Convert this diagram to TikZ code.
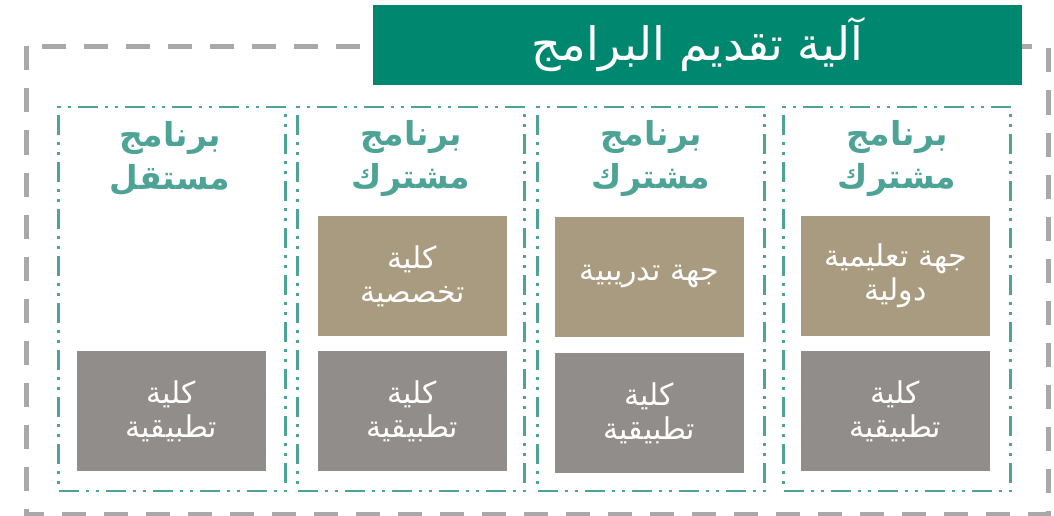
\documentclass[tikz,border=0pt]{standalone}
\usepackage{fontspec}
\TeXXeTstate=1
\newfontfamily\arabicfont[Script=Arabic]{DejaVu Sans}
\newcommand\AR[1]{\beginR #1\endR}
\definecolor{titlegreen}{HTML}{00876F}
\definecolor{tealline}{HTML}{4DA395}
\definecolor{tanbox}{HTML}{A89B80}
\definecolor{graybox}{HTML}{918D8A}
\definecolor{outergray}{HTML}{A9A9A9}
\begin{document}
\begin{tikzpicture}[x=1pt,y=-1pt,
  colbox/.style={draw=tealline, line width=2.6pt, dash pattern=on 20pt off 7pt on 3pt off 7pt on 3pt off 7pt, minimum width=227pt, minimum height=384pt, inner sep=0pt},
  heading/.style={text=tealline, align=center, font=\arabicfont\bfseries\fontsize{33}{43}\selectfont},
  cell/.style={minimum width=189pt, minimum height=120pt, inner sep=0pt, text=white, align=center, font=\arabicfont\fontsize{30}{34}\selectfont},
  tancell/.style={cell, fill=tanbox},
  graycell/.style={cell, fill=graybox}]
\useasboundingbox (0,0) rectangle (1054,516);
\draw[outergray, line width=5pt, dash pattern=on 24pt off 18pt] (26,46.5) rectangle (1048,514.5);
\node[fill=titlegreen, minimum width=649pt, minimum height=80pt, inner sep=0pt, text=white, font=\arabicfont\fontsize{46}{50}\selectfont] (title) at (697.5,45) {\AR{آلية تقديم البرامج}};
% columns
\node[colbox] (col1) at (172,299) {};
\node[colbox] (col2) at (411,299) {};
\node[colbox] (col3) at (651,299) {};
\node[colbox] (col4) at (897,299) {};
% headings
\node[heading] (h1) at (170,158) {\AR{برنامج}\\\AR{مستقل}};
\node[heading] (h2) at (411,158) {\AR{برنامج}\\\AR{مشترك}};
\node[heading] (h3) at (651,158) {\AR{برنامج}\\\AR{مشترك}};
\node[heading] (h4) at (897,158) {\AR{برنامج}\\\AR{مشترك}};
% cells
\node[graycell] (g1) at (171.5,411) {\AR{كلية}\\\AR{تطبيقية}};
\node[tancell] (t2) at (412.5,276) {\AR{كلية}\\\AR{تخصصية}};
\node[graycell] (g2) at (412.5,411) {\AR{كلية}\\\AR{تطبيقية}};
\node[tancell] (t3) at (649.5,276.5) {\AR{جهة تدريبية}};
\node[graycell] (g3) at (649.5,413) {\AR{كلية}\\\AR{تطبيقية}};
\node[tancell] (t4) at (895.5,276) {\AR{جهة تعليمية}\\\AR{دولية}};
\node[graycell] (g4) at (895.5,411) {\AR{كلية}\\\AR{تطبيقية}};
\end{tikzpicture}
\end{document}
